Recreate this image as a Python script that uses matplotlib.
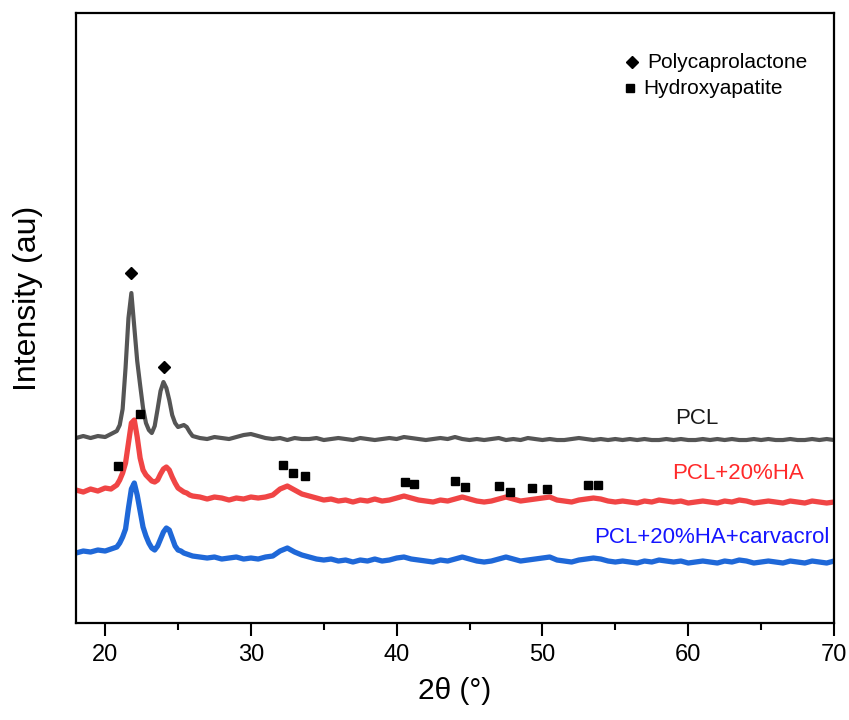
import matplotlib.pyplot as plt

plt.rcParams['font.family'] = ['Liberation Sans', 'DejaVu Sans']

# 2theta scan positions (deg)
two_theta = [18.0, 18.5, 19.0, 19.5, 20.0, 20.4, 20.8, 21.0, 21.2, 21.4,
             21.6, 21.8, 22.0, 22.2, 22.4, 22.6, 22.8, 23.0, 23.2, 23.4,
             23.6, 23.8, 24.0, 24.2, 24.4, 24.6, 24.8, 25.0, 25.2, 25.4,
             25.6, 25.8, 26.0,
             26.5, 27.0, 27.5, 28.0, 28.5, 29.0, 29.5, 30.0, 30.5, 31.0,
             31.5, 32.0, 32.5, 33.0, 33.5, 34.0, 34.5, 35.0, 35.5, 36.0,
             36.5, 37.0, 37.5, 38.0, 38.5, 39.0, 39.5, 40.0, 40.5, 41.0,
             41.5, 42.0, 42.5, 43.0, 43.5, 44.0, 44.5, 45.0, 45.5, 46.0,
             46.5, 47.0, 47.5, 48.0, 48.5, 49.0, 49.5, 50.0, 50.5, 51.0,
             51.5, 52.0, 52.5, 53.0, 53.5, 54.0, 54.5, 55.0, 55.5, 56.0,
             56.5, 57.0, 57.5, 58.0, 58.5, 59.0, 59.5, 60.0, 60.5, 61.0,
             61.5, 62.0, 62.5, 63.0, 63.5, 64.0, 64.5, 65.0, 65.5, 66.0,
             66.5, 67.0, 67.5, 68.0, 68.5, 69.0, 69.5, 70.0]

# intensities (stacked, arbitrary units)
pcl = [185, 187, 185, 187, 186, 189, 192, 198, 214, 255,
       305, 330, 296, 262, 238, 215, 200, 193, 190, 197,
       214, 232, 241, 235, 223, 208, 200, 196, 197, 198,
       196, 191, 187,
       185, 184, 186, 185, 184, 186, 188, 189, 187, 185,
       184, 185, 183, 185, 184, 184, 185, 183, 184, 185,
       184, 183, 185, 184, 183, 184, 185, 184, 186, 185,
       184, 183, 184, 185, 184, 186, 184, 183, 184, 183,
       184, 185, 183, 184, 183, 185, 184, 183, 184, 183,
       183, 184, 185, 184, 183, 184, 183, 184, 183, 184,
       183, 184, 183, 183, 184, 183, 184, 183, 183, 184,
       183, 184, 183, 184, 183, 183, 184, 183, 184, 183,
       183, 184, 183, 183, 184, 183, 184, 183]

pcl_ha = [133, 131, 134, 132, 135, 134, 138, 143, 150, 160,
          180, 200, 203, 186, 165, 153, 148, 145, 142, 141,
          143, 149, 154, 156, 153, 146, 140, 135, 133, 131,
          130, 128, 127,
          126, 124, 126, 125, 123, 125, 124, 126, 125, 126,
          128, 134, 137, 133, 129, 127, 125, 123, 124, 122,
          123, 121, 123, 122, 124, 122, 123, 125, 127, 125,
          123, 122, 121, 123, 122, 124, 126, 124, 122, 121,
          122, 124, 126, 124, 122, 123, 124, 125, 126, 123,
          122, 121, 123, 124, 125, 124, 122, 121, 122, 121,
          120, 122, 121, 123, 122, 121, 122, 120, 121, 122,
          121, 120, 122, 121, 123, 122, 120, 121, 122, 121,
          120, 122, 121, 120, 122, 121, 120, 121]

pcl_ha_carv = [70, 72, 71, 73, 72, 74, 76, 80, 86, 94,
               115, 134, 140, 128, 112, 96, 87, 80, 75, 73,
               77, 84, 91, 95, 93, 85, 77, 73, 72, 70,
               69, 68, 67,
               66, 65, 66, 64, 65, 66, 64, 65, 64, 66,
               67, 72, 75, 71, 68, 66, 64, 63, 64, 62,
               63, 61, 63, 62, 64, 62, 63, 65, 66, 64,
               63, 62, 61, 63, 62, 64, 66, 64, 62, 61,
               62, 64, 66, 64, 62, 63, 64, 65, 66, 63,
               62, 61, 63, 64, 65, 64, 62, 61, 62, 61,
               60, 62, 61, 63, 62, 61, 62, 60, 61, 62,
               61, 60, 62, 61, 63, 62, 60, 61, 62, 61,
               60, 62, 61, 60, 62, 61, 60, 62]

# peak markers
pcl_peak_x = [21.8, 24.04]
pcl_peak_y = [350, 256]
ha_peak_x = [20.86, 22.39, 32.2, 32.88, 33.71, 40.57, 41.18, 44.0, 44.68,
             47.01, 47.77, 49.28, 50.3, 53.1, 53.8]
ha_peak_y = [157, 209, 158, 150, 147, 141, 139, 142, 136,
             137, 131, 135, 134, 138, 138]

fig = plt.figure(figsize=(8.49, 7.2), dpi=100)
ax = fig.add_axes([0.0895, 0.1347, 0.8928, 0.8472])

ax.plot(two_theta, pcl, color='#555555', lw=3.0)
ax.plot(two_theta, pcl_ha, color='#f04545', lw=3.8)
ax.plot(two_theta, pcl_ha_carv, color='#1f68d8', lw=3.8)

ax.plot(pcl_peak_x, pcl_peak_y, 'D', color='black', ms=6.5, ls='none')
ax.plot(ha_peak_x, ha_peak_y, 's', color='black', ms=5.5, ls='none')

# series labels
ax.text(60.6, 205, 'PCL', color='#1a1a1a', fontsize=16, ha='center', va='center')
ax.text(63.45, 150, 'PCL+20%HA', color='#ff2a2a', fontsize=16, ha='center', va='center')
ax.text(69.7, 86, 'PCL+20%HA+carvacrol', color='#1515ff', fontsize=16, ha='right', va='center')

# key (drawn by hand like the original)
ax.plot([56.13], [561], 'D', color='black', ms=6, ls='none')
ax.text(57.16, 561, 'Polycaprolactone', fontsize=15, va='center')
ax.plot([55.99], [535], 's', color='black', ms=6, ls='none')
ax.text(56.89, 535, 'Hydroxyapatite', fontsize=15, va='center')

ax.set_xlim(18, 70)
ax.set_ylim(0, 610)
ax.set_xticks([20, 30, 40, 50, 60, 70])
ax.set_xticks([25, 35, 45, 55, 65], minor=True)
ax.set_yticks([])
ax.tick_params(axis='x', which='major', length=9, width=1.5, labelsize=17, pad=6)
ax.tick_params(axis='x', which='minor', length=5, width=1.5)
for s in ax.spines.values():
    s.set_linewidth(1.6)

ax.set_xlabel('2θ (°)', fontsize=21.5, labelpad=8)
ax.set_ylabel('Intensity (au)', fontsize=23)
ax.yaxis.set_label_coords(-0.043, 0.533)

fig.savefig('out.png', dpi=100)
